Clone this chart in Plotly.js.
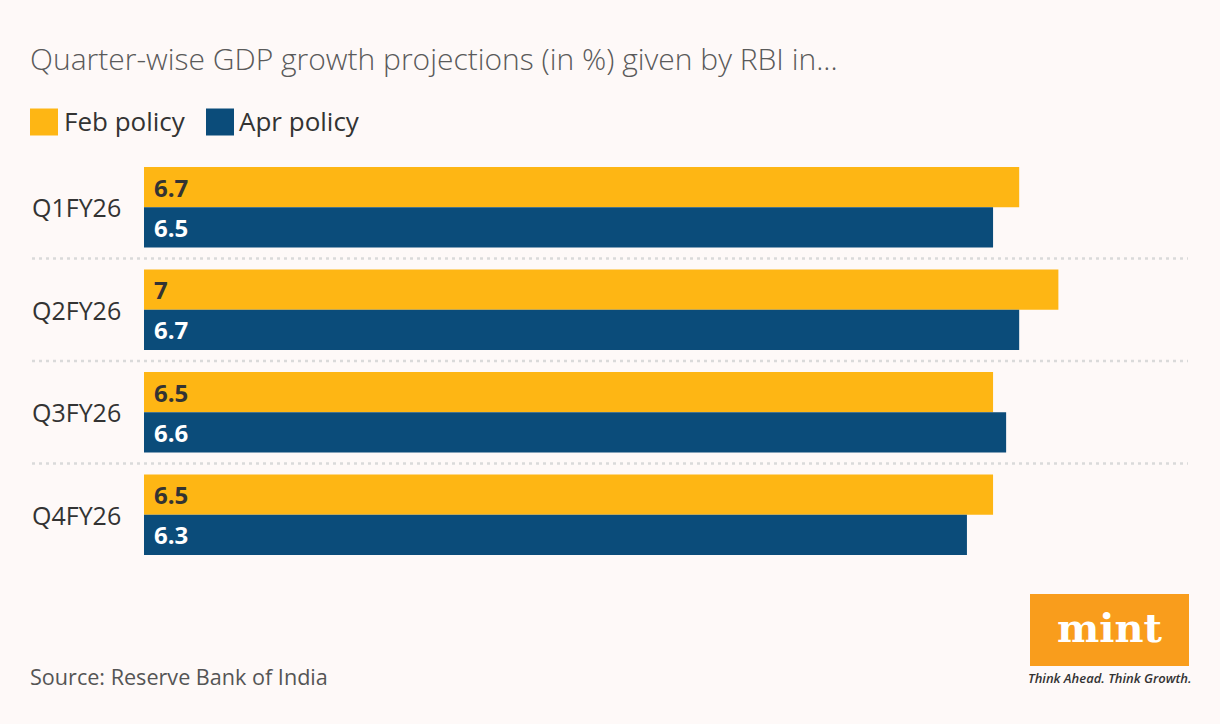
<!DOCTYPE html>
<html>
<head>
<meta charset="utf-8">
<script src="https://cdn.plot.ly/plotly-3.0.1.min.js"></script>
<style>
  html, body { margin: 0; padding: 0; background: #FEF9F8; }
  #chart { width: 1220px; height: 724px; }
</style>
</head>
<body>
<div id="chart"></div>
<script>
const categories = ["Q1FY26", "Q2FY26", "Q3FY26", "Q4FY26"];
const febPolicy = [6.7, 7, 6.5, 6.5];
const aprPolicy = [6.5, 6.7, 6.6, 6.3];
const seriesNames = ["Feb policy", "Apr policy"];
const titleText = "Quarter-wise GDP growth projections (in %) given by RBI in...";
const sourceText = "Source: Reserve Bank of India";

const W = 1220, H = 724;
const M = { l: 144, r: 31, t: 156, b: 158 };
const PW = W - M.l - M.r, PH = H - M.t - M.b;
const px2x = px => (px - M.l) / PW;
const px2y = py => (H - M.b - py) / PH;

const YEL = "#FEB614", BLUE = "#0B4C7A", BG = "#FEF9F8";
const FONT = "Open Sans, Noto Sans, sans-serif";

const traces = [
  { type: "bar", orientation: "h", name: seriesNames[0], y: categories, x: febPolicy,
    marker: { color: YEL }, hoverinfo: "x" },
  { type: "bar", orientation: "h", name: seriesNames[1], y: categories, x: aprPolicy,
    marker: { color: BLUE }, hoverinfo: "x" }
];

const annotations = [];
const shapes = [];

// category labels
categories.forEach(c => {
  annotations.push({ xref: "paper", x: px2x(32), xanchor: "left", yref: "y", y: c, yanchor: "middle",
    text: c, showarrow: false, borderpad: 0, borderwidth: 0,
    font: { family: FONT, size: 25, color: "#333333" } });
});
// value labels
categories.forEach((c, i) => {
  annotations.push({ xref: "x", x: 0, xanchor: "left", xshift: 10, yref: "y", y: c, yshift: 20.1,
    yanchor: "middle", text: "<b>" + febPolicy[i] + "</b>", showarrow: false, borderpad: 0, borderwidth: 0,
    font: { family: FONT, size: 24, color: "#333333" } });
  annotations.push({ xref: "x", x: 0, xanchor: "left", xshift: 10, yref: "y", y: c, yshift: -20.1,
    yanchor: "middle", text: "<b>" + aprPolicy[i] + "</b>", showarrow: false, borderpad: 0, borderwidth: 0,
    font: { family: FONT, size: 24, color: "#FFFFFF" } });
});
// separators
for (let i = 0; i < categories.length - 1; i++) {
  shapes.push({ type: "line", xref: "paper", x0: px2x(32), x1: px2x(1188), yref: "y", y0: i + 0.5, y1: i + 0.5,
    line: { color: "#DADADA", width: 2.5, dash: "3px,4px" } });
}
// legend
const legendItems = [
  { x: 30, tx: 64, color: YEL, name: seriesNames[0] },
  { x: 206, tx: 239, color: BLUE, name: seriesNames[1] }
];
legendItems.forEach(it => {
  shapes.push({ type: "rect", xref: "paper", yref: "paper", x0: px2x(it.x), x1: px2x(it.x + 28),
    y0: px2y(135.5), y1: px2y(108.5), fillcolor: it.color, line: { width: 0 } });
  annotations.push({ xref: "paper", yref: "paper", x: px2x(it.tx), y: px2y(121), xanchor: "left", yanchor: "middle",
    text: it.name, showarrow: false, borderpad: 0, borderwidth: 0,
    font: { family: FONT, size: 26, color: "#333333" } });
});
// source
annotations.push({ xref: "paper", yref: "paper", x: px2x(30), y: px2y(676), xanchor: "left", yanchor: "middle",
  text: sourceText, showarrow: false, borderpad: 0, borderwidth: 0,
  font: { family: FONT, size: 21.6, color: "#555555" } });
// logo
shapes.push({ type: "rect", xref: "paper", yref: "paper", x0: px2x(1030), x1: px2x(1189),
  y0: px2y(666), y1: px2y(594), fillcolor: "#F99D1C", line: { width: 0 } });
annotations.push({ xref: "paper", yref: "paper", x: px2x(1109.5), y: px2y(627), xanchor: "center", yanchor: "middle",
  text: "<b>mint</b>", showarrow: false, borderpad: 0, borderwidth: 0,
  font: { family: "DejaVu Serif, serif", size: 40, color: "#FFFFFF" } });
annotations.push({ xref: "paper", yref: "paper", x: px2x(1109.5), y: px2y(678), xanchor: "center", yanchor: "middle",
  text: "<i>Think Ahead. Think Growth.</i>", showarrow: false, borderpad: 0, borderwidth: 0,
  font: { family: FONT, size: 13, color: "#333333", weight: 600 } });

const layout = {
  width: W, height: H,
  margin: M,
  paper_bgcolor: BG, plot_bgcolor: BG,
  showlegend: false,
  barmode: "group", bargap: 0.216, bargroupgap: 0,
  title: { text: titleText, xref: "container", x: 30 / W, xanchor: "left",
    yref: "container", y: 1 - 59 / H, yanchor: "middle",
    font: { family: FONT, size: 30, color: "#5A5A5A", weight: 300 } },
  xaxis: { range: [0, 8], visible: false, fixedrange: true },
  yaxis: { type: "category", autorange: "reversed", showticklabels: false, showgrid: false,
    zeroline: false, showline: false, ticks: "", fixedrange: true },
  annotations: annotations,
  shapes: shapes
};

Plotly.newPlot("chart", traces, layout, { displayModeBar: false, staticPlot: true });
</script>
</body>
</html>
